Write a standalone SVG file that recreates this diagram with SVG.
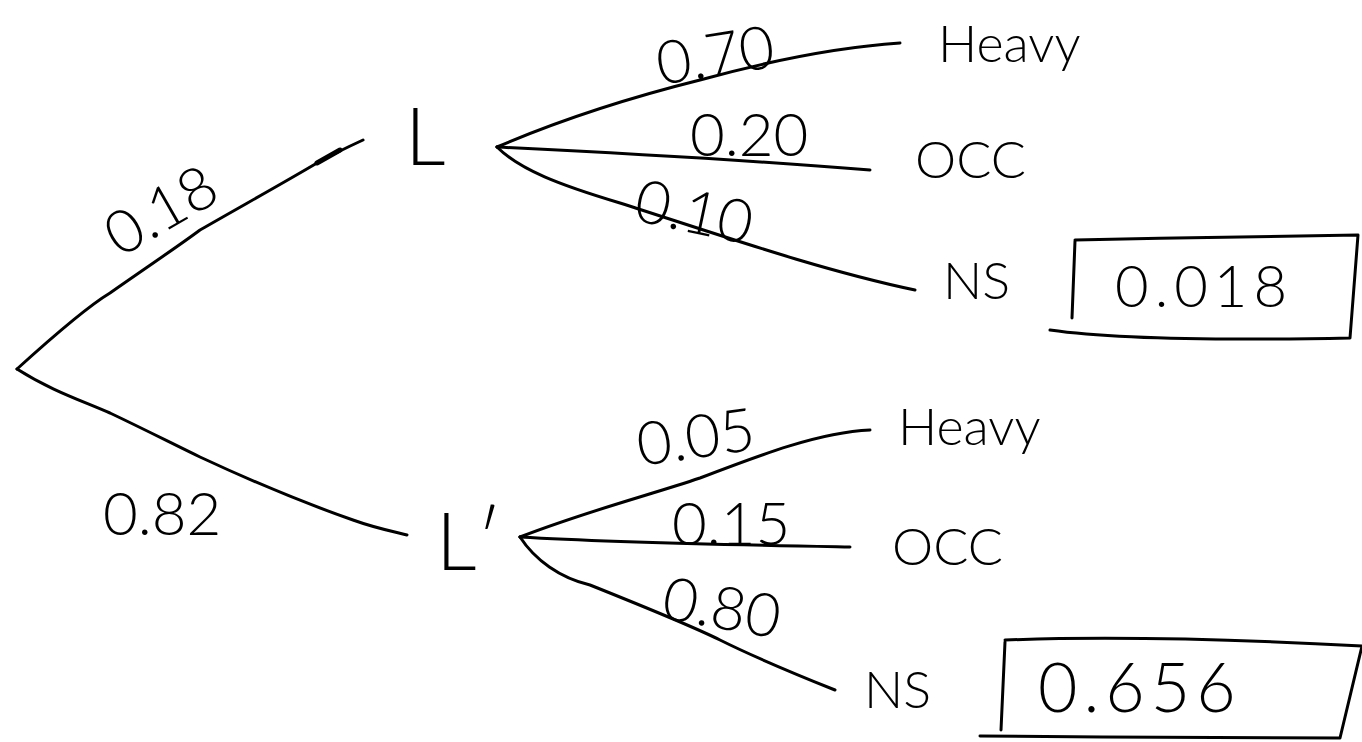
<svg xmlns="http://www.w3.org/2000/svg" width="1362" height="742" viewBox="0 0 1362 742">
  <style>
    .ink { fill: none; stroke: #000; stroke-width: 3; stroke-linecap: round; stroke-linejoin: round; }
    .t { font-family: Lato, "Open Sans", "Liberation Sans", sans-serif; font-weight: 300; fill: #000; }
    .node { font-size: 80px; }
    .p { font-size: 60px; }
    .out { font-size: 52px; }
  </style>
  <rect width="1362" height="742" fill="#fff"/>

  <!-- branches -->
  <g id="connectors" class="ink">
    <path d="M17,369 C60,330 90,305 110,293 C150,265 180,245 200,230 C240,207 285,182 317,163 C335,153 350,146 363,140"/>
    <path d="M317,163 L340,150" stroke-width="5"/>
    <path d="M17,369 C50,390 80,400 110,413 C150,432 175,445 200,457 C260,485 310,505 353,520 C375,528 395,532 407,535"/>
    <!-- from L -->
    <path d="M497,147 C560,120 620,100 700,80 C780,58 840,47 900,43"/>
    <path d="M497,147 C600,152 720,158 870,170"/>
    <path d="M497,147 C520,170 560,185 620,203 C720,235 820,270 915,290"/>
    <!-- from L' -->
    <path d="M520,537 C590,510 650,495 700,478 C760,455 820,432 870,430"/>
    <path d="M520,537 C620,543 740,545 850,547"/>
    <path d="M520,537 C535,560 560,578 590,585 C640,605 690,625 720,640 C760,660 800,676 835,690"/>
    <!-- result boxes -->
    <path d="M1075,241 L1072,318 M1075,240 C1170,238 1270,236 1358,235 L1350,338 M1050,330 C1120,340 1250,340 1350,338"/>
    <path d="M1005,642 L1001,730 M1005,640 C1120,636 1250,640 1362,646 L1340,738 M980,736 C1100,737 1230,738 1340,738"/>
  </g>

  <!-- first-stage nodes -->
  <g id="node-L"><text class="t node" x="405" y="165">L</text></g>
  <g id="node-Lc"><text class="t node" x="436" y="570">L′</text></g>

  <!-- branch probabilities -->
  <g id="labels">
    <text class="t p" x="0" y="0" transform="translate(120,258) rotate(-30)" font-size="64">0.18</text>
    <text class="t p" x="103" y="535" font-size="72">0.82</text>
    <text class="t p" x="0" y="0" transform="translate(660,85) rotate(-9)">0.70</text>
    <text class="t p" x="690" y="156">0.20</text>
    <text class="t p" x="0" y="0" transform="translate(632,220) rotate(12)">0.10</text>
    <text class="t p" x="0" y="0" transform="translate(640,466) rotate(-8)" font-size="64">0.05</text>
    <text class="t p" x="672" y="545">0.15</text>
    <text class="t p" x="0" y="0" transform="translate(660,618) rotate(10)">0.80</text>
  </g>

  <!-- outcomes after L -->
  <g id="heavy-1"><text class="t out" x="938" y="62">Heavy</text></g>
  <g id="occ-1"><text class="t out" x="915" y="178" font-size="44">OCC</text></g>
  <g id="ns-1"><text class="t out" x="943" y="299" font-size="68">NS</text></g>
  <g id="result-1"><text class="t" x="1115" y="307" font-size="58" letter-spacing="6">0.018</text></g>

  <!-- outcomes after L' -->
  <g id="heavy-2"><text class="t out" x="898" y="445">Heavy</text></g>
  <g id="occ-2"><text class="t out" x="892" y="565" font-size="44">OCC</text></g>
  <g id="ns-2"><text class="t out" x="864" y="708" font-size="54">NS</text></g>
  <g id="result-2"><text class="t" x="1038" y="712" font-size="68" letter-spacing="6">0.656</text></g>
</svg>
